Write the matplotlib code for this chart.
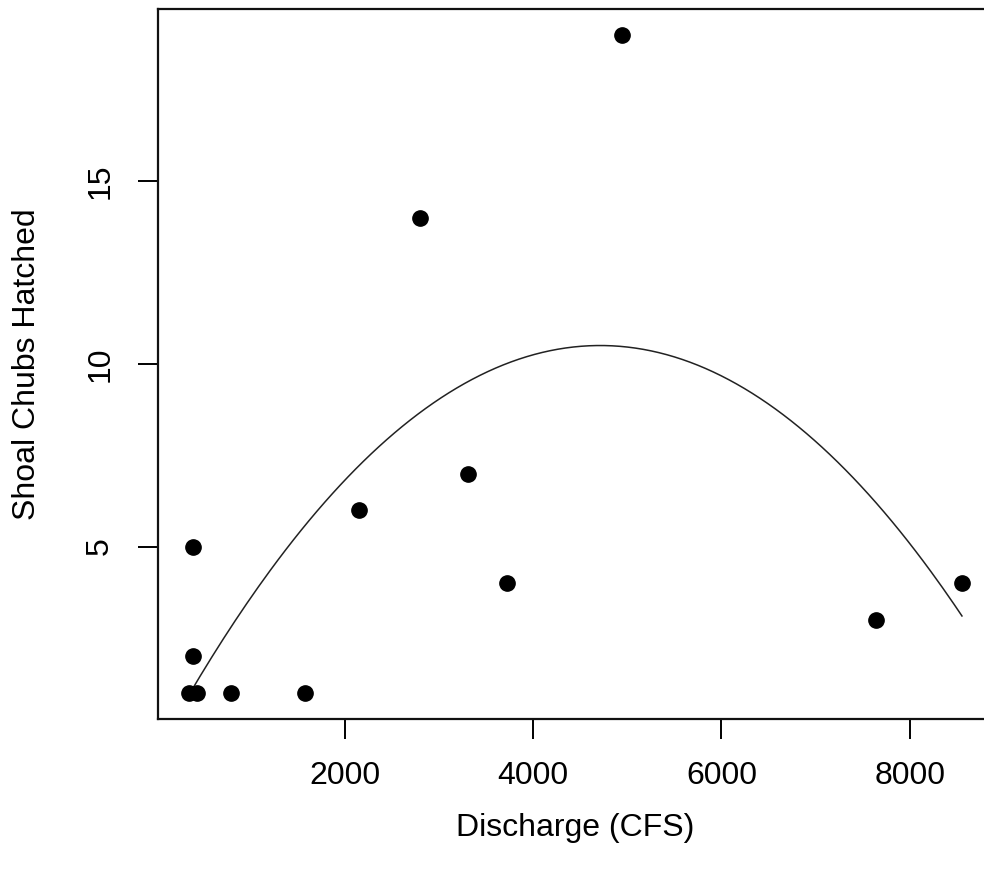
import numpy as np
import matplotlib
matplotlib.use("Agg")
import matplotlib.pyplot as plt

# Discharge (cubic feet per second) and number of shoal chubs hatched
discharge = [344, 387, 387, 433, 791, 1578, 2152, 2797, 3312, 3722, 4941, 7639, 8553]
hatched = [1, 5, 2, 1, 1, 1, 6, 14, 7, 4, 19, 3, 4]

x_ticks = [2000, 4000, 6000, 8000]
y_ticks = [5, 10, 15]

plt.rcParams["font.family"] = ["Liberation Sans", "DejaVu Sans"]

W, H = 984, 875
fig = plt.figure(figsize=(W / 100, H / 100), dpi=100)

x = np.asarray(discharge, dtype=float)
y = np.asarray(hatched, dtype=float)

# R-style axis limits: data range padded by 4% on each side
xr = x.max() - x.min()
yr = y.max() - y.min()
xlim = (x.min() - 0.04 * xr, x.max() + 0.04 * xr)
ylim = (y.min() - 0.04 * yr, y.max() + 0.04 * yr)

left_px, right_px = 157.6, 157.6 + (xlim[1] - 0) * 0.09405
top_px, bottom_px = 9.0, 719.0
ax = fig.add_axes([left_px / W, 1 - bottom_px / H,
                   (right_px - left_px) / W, (bottom_px - top_px) / H])
ax.set_xlim(*xlim)
ax.set_ylim(*ylim)

# Quadratic fit of hatch counts on discharge
coef = np.polyfit(x, y, 2)
xs = np.linspace(x.min(), x.max(), 200)
ax.plot(xs, np.polyval(coef, xs), color="#222222", lw=1.1, zorder=2)

ax.plot(x, y, "o", color="black", markersize=11, zorder=3)

ax.set_xticks(x_ticks)
ax.set_yticks(y_ticks)
ax.set_xticklabels([str(v) for v in x_ticks])
ax.set_yticklabels([str(v) for v in y_ticks], rotation=90, va="center")
ax.tick_params(direction="out", length=14.5, width=1.4, labelsize=23,
               pad=16, colors="black")
ax.tick_params(axis="y", pad=16)
for s in ax.spines.values():
    s.set_linewidth(1.6)
    s.set_color("#111111")

fig.text(575 / W, 1 - 828 / H, "Discharge (CFS)", ha="center", va="center",
         fontsize=23)
fig.text(27 / W, 1 - 364 / H, "Shoal Chubs Hatched", ha="center",
         va="center", rotation=90, fontsize=23)

fig.savefig("out.png", dpi=100, facecolor="white")
